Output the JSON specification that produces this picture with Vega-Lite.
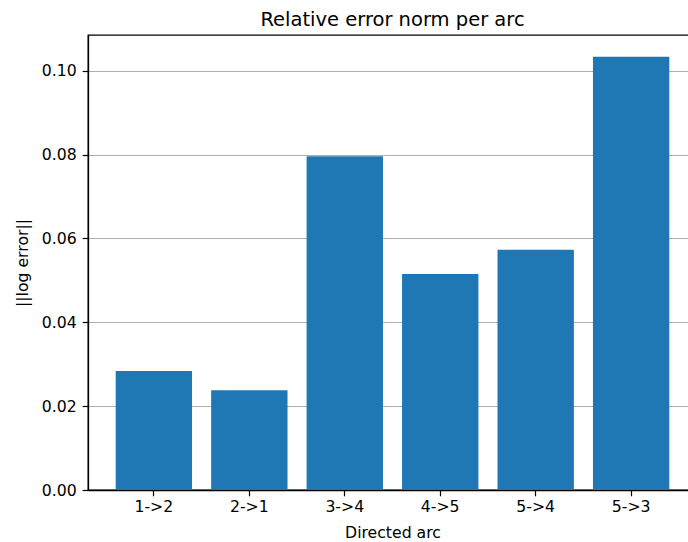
{
  "$schema": "https://vega.github.io/schema/vega-lite/v6.json",
  "autosize": {"type": "none"},
  "padding": {"left": 88, "top": 35, "right": 0, "bottom": 52},
  "width": 609,
  "height": 455,
  "background": "white",
  "title": {
    "text": "Relative error norm per arc",
    "font": "DejaVu Sans",
    "fontSize": 19.5,
    "fontWeight": "normal",
    "color": "#000000",
    "anchor": "middle",
    "baseline": "bottom",
    "offset": 4,
    "dy": 18
  },
  "data": {
    "values": [
      {"arc": "1->2", "err": 0.0284},
      {"arc": "2->1", "err": 0.0238},
      {"arc": "3->4", "err": 0.0796},
      {"arc": "4->5", "err": 0.0515},
      {"arc": "5->4", "err": 0.0573},
      {"arc": "5->3", "err": 0.1033}
    ]
  },
  "mark": {"type": "bar", "color": "#1f77b4"},
  "encoding": {
    "x": {
      "field": "arc",
      "type": "nominal",
      "sort": null,
      "scale": {"paddingInner": 0.2, "paddingOuter": 0.29},
      "axis": {
        "title": "Directed arc",
        "labelAngle": 0,
        "labelBaseline": "top",
        "labelPadding": 4,
        "tickSize": 5.8,
        "tickColor": "#000000",
        "tickWidth": 1.2,
        "domainColor": "#000000",
        "domainWidth": 1.3,
        "grid": false,
        "titleX": 304.5,
        "titleY": 47,
        "titleBaseline": "alphabetic"
      }
    },
    "y": {
      "field": "err",
      "type": "quantitative",
      "scale": {"domain": [0, 0.1085], "nice": false, "zero": true},
      "axis": {
        "title": "||log error||",
        "values": [0, 0.02, 0.04, 0.06, 0.08, 0.1],
        "format": ".2f",
        "labelPadding": 6,
        "tickSize": 5.8,
        "tickColor": "#000000",
        "tickWidth": 1.2,
        "domainColor": "#000000",
        "domainWidth": 1.3,
        "grid": true,
        "gridColor": "#b0b0b0",
        "gridWidth": 1.1,
        "titleAngle": -90,
        "titleAlign": "center",
        "titleBaseline": "middle",
        "titleX": -66,
        "titleY": 227.5
      }
    }
  },
  "config": {
    "font": "DejaVu Sans",
    "view": {"stroke": "#000000", "strokeWidth": 1.3},
    "axis": {
      "labelFont": "DejaVu Sans",
      "labelFontSize": 15.7,
      "labelColor": "#000000",
      "titleFont": "DejaVu Sans",
      "titleFontSize": 15.7,
      "titleFontWeight": "normal",
      "titleColor": "#000000"
    }
  }
}
